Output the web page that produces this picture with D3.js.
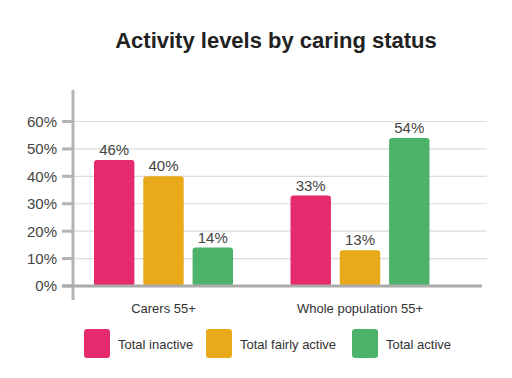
<!DOCTYPE html>
<html>
<head>
<meta charset="utf-8">
<script src="https://cdn.jsdelivr.net/npm/d3@7"></script>
<style>
  body { margin: 0; background: #fff; }
  svg { font-family: "Liberation Sans", Arial, sans-serif; }
</style>
</head>
<body>
<div id="chart"></div>
<script>
// Data
const groups = ['Carers 55+', 'Whole population 55+'];
const seriesNames = ['Total inactive', 'Total fairly active', 'Total active'];
const inactive = [0.46, 0.33];
const fairlyActive = [0.40, 0.13];
const active = [0.14, 0.54];
const yTicks = [0, 0.1, 0.2, 0.3, 0.4, 0.5, 0.6];
const colors = ['#e62a6e', '#e8a91a', '#4db36b'];

const width = 512, height = 378;

const svg = d3.select('#chart').append('svg')
    .attr('width', width)
    .attr('height', height);

// Scales
const x0 = d3.scaleBand()
    .domain(groups)
    .range([65.25, 458.25])
    .paddingInner(0.2926)
    .paddingOuter(0.1463);

const x1 = d3.scaleBand()
    .domain(seriesNames)
    .range([0, x0.bandwidth()])
    .paddingInner(0.18);

const y = d3.scaleLinear()
    .domain([0, 0.715])
    .range([286, 90]);

const color = d3.scaleOrdinal().domain(seriesNames).range(colors);

const axisX = 73;

// Title
svg.append('text')
    .attr('x', 276)
    .attr('y', 48)
    .attr('text-anchor', 'middle')
    .attr('font-size', 22)
    .attr('font-weight', 'bold')
    .attr('fill', '#222')
    .text('Activity levels by caring status');

// Gridlines + ticks
const grid = svg.append('g');
grid.selectAll('line.grid')
    .data(yTicks.filter(d => d > 0))
  .join('line')
    .attr('class', 'grid')
    .attr('x1', axisX)
    .attr('x2', 487)
    .attr('y1', d => y(d))
    .attr('y2', d => y(d))
    .attr('stroke', '#dcdcdc')
    .attr('stroke-width', 1.2);

grid.selectAll('line.tick')
    .data(yTicks)
  .join('line')
    .attr('class', 'tick')
    .attr('x1', 62)
    .attr('x2', axisX)
    .attr('y1', d => y(d))
    .attr('y2', d => y(d))
    .attr('stroke', '#b4b4b4')
    .attr('stroke-width', 3);

grid.selectAll('text')
    .data(yTicks)
  .join('text')
    .attr('x', 57)
    .attr('y', d => y(d))
    .attr('dy', '0.36em')
    .attr('text-anchor', 'end')
    .attr('font-size', 15)
    .attr('fill', '#444')
    .text(d => d3.format('.0%')(d));

// Bars
const series = [inactive, fairlyActive, active];
const barData = [];
groups.forEach((g, gi) => {
  seriesNames.forEach((s, si) => {
    barData.push({group: g, key: s, value: series[si][gi]});
  });
});

svg.append('g').selectAll('rect')
    .data(barData)
  .join('rect')
    .attr('x', d => x0(d.group) + x1(d.key))
    .attr('y', d => y(d.value))
    .attr('width', x1.bandwidth())
    .attr('height', d => y(0) - y(d.value))
    .attr('rx', 3)
    .attr('fill', d => color(d.key));

svg.append('g').selectAll('text')
    .data(barData)
  .join('text')
    .attr('x', d => x0(d.group) + x1(d.key) + x1.bandwidth() / 2)
    .attr('y', d => y(d.value) - 5)
    .attr('text-anchor', 'middle')
    .attr('font-size', 15)
    .attr('fill', '#444')
    .text(d => d3.format('.0%')(d.value));

// Axes lines
svg.append('line')
    .attr('x1', axisX).attr('x2', axisX)
    .attr('y1', y.range()[1]).attr('y2', 300)
    .attr('stroke', '#b4b4b4')
    .attr('stroke-width', 3);

svg.append('line')
    .attr('x1', 62).attr('x2', 482)
    .attr('y1', y(0)).attr('y2', y(0))
    .attr('stroke', '#aaaaaa')
    .attr('stroke-width', 3);

// Category labels
svg.append('g').selectAll('text')
    .data(groups)
  .join('text')
    .attr('x', d => x0(d) + x0.bandwidth() / 2)
    .attr('y', 313)
    .attr('text-anchor', 'middle')
    .attr('font-size', 13)
    .attr('fill', '#333')
    .text(d => d);

// Legend
const legendX = [84, 206, 352];
const legend = svg.append('g').selectAll('g')
    .data(seriesNames)
  .join('g')
    .attr('transform', (d, i) => `translate(${legendX[i]},329)`);

legend.append('rect')
    .attr('width', 26)
    .attr('height', 29)
    .attr('rx', 3)
    .attr('fill', d => color(d));

legend.append('text')
    .attr('x', 34)
    .attr('y', 15)
    .attr('dy', '0.35em')
    .attr('font-size', 13)
    .attr('fill', '#333')
    .text(d => d);
</script>
</body>
</html>
